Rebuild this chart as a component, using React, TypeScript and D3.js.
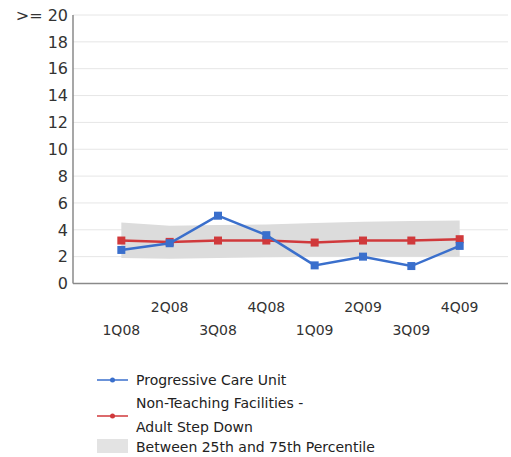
import React, { useEffect, useRef } from 'react';
import * as d3 from 'd3';

const quarters = ['1Q08', '2Q08', '3Q08', '4Q08', '1Q09', '2Q09', '3Q09', '4Q09'];
const unitValues = [2.5, 3.0, 5.05, 3.6, 1.35, 2.0, 1.3, 2.8];
const peerValues = [3.2, 3.1, 3.2, 3.2, 3.05, 3.2, 3.2, 3.3];
const bandUpper = [4.55, 4.3, 4.35, 4.4, 4.5, 4.6, 4.65, 4.7];
const bandLower = [1.9, 1.85, 1.9, 1.95, 2.0, 2.0, 2.0, 2.0];
const yTicks = [0, 2, 4, 6, 8, 10, 12, 14, 16, 18, 20];

const W = 511;
const H = 457;
const FONT = "'DejaVu Sans', Verdana, sans-serif";
const BLUE = '#3a6fcc';
const RED = '#d0393b';

export default function App() {
    const svgRef = useRef<SVGSVGElement>(null);

    useEffect(() => {
        if (!svgRef.current) return;
        const svg = d3.select(svgRef.current);
        svg.selectAll('*').remove();

        const left = 73, right = 508, top = 15, bottom = 283.5;

        const x = d3.scalePoint<string>().domain(quarters).range([left, right]).padding(1);
        const y = d3.scaleLinear().domain([0, 20]).range([bottom, top]);

        // gridlines
        svg.append('g').selectAll('line')
            .data(yTicks.filter(t => t > 0))
            .enter().append('line')
            .attr('x1', left).attr('x2', right)
            .attr('y1', d => y(d)).attr('y2', d => y(d))
            .attr('stroke', '#e6e6e6').attr('stroke-width', 1);

        // percentile band
        const area = d3.area<number>()
            .x((_, i) => x(quarters[i])!)
            .y0((_, i) => y(bandLower[i]))
            .y1(d => y(d));
        svg.append('path')
            .attr('d', area(bandUpper))
            .attr('fill', '#dcdcdc');

        // axes
        svg.append('line')
            .attr('x1', left).attr('x2', left).attr('y1', top).attr('y2', bottom)
            .attr('stroke', '#8a8a8a').attr('stroke-width', 1.5);
        svg.append('line')
            .attr('x1', left).attr('x2', right).attr('y1', bottom).attr('y2', bottom)
            .attr('stroke', '#8a8a8a').attr('stroke-width', 1.5);

        // y tick labels
        svg.append('g').selectAll('text')
            .data(yTicks)
            .enter().append('text')
            .attr('x', left - 5)
            .attr('y', d => y(d))
            .attr('dy', '0.36em')
            .attr('text-anchor', 'end')
            .style('font-family', FONT)
            .style('font-size', '16px')
            .style('fill', '#333')
            .text(d => (d === 20 ? '>= 20' : String(d)));

        // x tick labels, staggered
        svg.append('g').selectAll('text')
            .data(quarters)
            .enter().append('text')
            .attr('x', d => x(d)!)
            .attr('y', (_, i) => (i % 2 === 1 ? 312 : 335))
            .attr('text-anchor', 'middle')
            .style('font-family', FONT)
            .style('font-size', '14px')
            .style('fill', '#333')
            .text(d => d);

        const line = d3.line<number>()
            .x((_, i) => x(quarters[i])!)
            .y(d => y(d));

        const series = [
            { values: peerValues, color: RED },
            { values: unitValues, color: BLUE },
        ];
        series.forEach(s => {
            svg.append('path')
                .attr('d', line(s.values))
                .attr('fill', 'none')
                .attr('stroke', s.color)
                .attr('stroke-width', 2.5);
            svg.append('g').selectAll('rect')
                .data(s.values)
                .enter().append('rect')
                .attr('x', (_, i) => x(quarters[i])! - 4)
                .attr('y', d => y(d) - 4)
                .attr('width', 8).attr('height', 8)
                .attr('fill', s.color);
        });

        // legend
        const lg = svg.append('g');
        const lx1 = 97, lx2 = 128, tx = 136;
        const legendLines = [
            { color: BLUE, yLine: 380, labels: [{ t: 'Progressive Care Unit', y: 385 }] },
            { color: RED, yLine: 416, labels: [{ t: 'Non-Teaching Facilities -', y: 408 }, { t: 'Adult Step Down', y: 432 }] },
        ];
        legendLines.forEach(l => {
            lg.append('line')
                .attr('x1', lx1).attr('x2', lx2).attr('y1', l.yLine).attr('y2', l.yLine)
                .attr('stroke', l.color).attr('stroke-width', 1.5);
            lg.append('circle')
                .attr('cx', (lx1 + lx2) / 2).attr('cy', l.yLine).attr('r', 2.5)
                .attr('fill', l.color);
            l.labels.forEach(lb => {
                lg.append('text')
                    .attr('x', tx).attr('y', lb.y)
                    .style('font-family', FONT)
                    .style('font-size', '14px')
                    .style('fill', '#222')
                    .text(lb.t);
            });
        });
        lg.append('rect')
            .attr('x', lx1).attr('y', 439).attr('width', lx2 - lx1).attr('height', 14)
            .attr('fill', '#e3e3e3');
        lg.append('text')
            .attr('x', tx).attr('y', 452)
            .style('font-family', FONT)
            .style('font-size', '14px')
            .style('fill', '#222')
            .text('Between 25th and 75th Percentile');
    }, []);

    return (
        <svg
            ref={svgRef}
            width={W}
            height={H}
            style={{ position: 'absolute', left: 0, top: 0, background: '#fff' }}
        />
    );
}
